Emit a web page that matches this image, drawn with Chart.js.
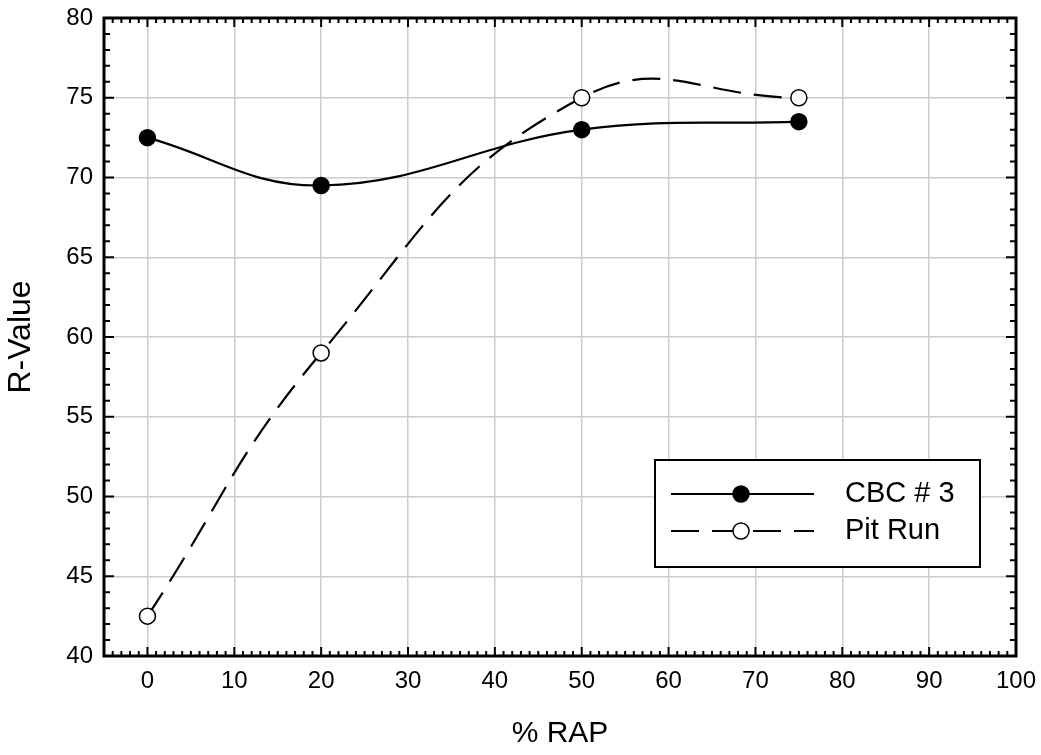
<!DOCTYPE html>
<html>
<head>
<meta charset="utf-8">
<script src="https://cdn.jsdelivr.net/npm/chart.js@4"></script>
<style>
  html, body { margin: 0; padding: 0; background: #fff; }
  canvas { display: block; }
</style>
</head>
<body>
<canvas id="chart" width="1041" height="755"></canvas>
<script>
// values
const rapPercent = [0, 20, 50, 75];
const cbcValues = [72.5, 69.5, 73, 73.5];
const pitRunValues = [42.5, 59, 75, 75];
const seriesNames = ['CBC # 3', 'Pit Run'];
const xTickValues = [0, 10, 20, 30, 40, 50, 60, 70, 80, 90, 100];

const FONT = "'Liberation Sans', Arial, sans-serif";
const DASH = [28, 13];

const toPoints = (xs, ys) => xs.map((x, i) => ({x, y: ys[i]}));

// frame with inward major/minor ticks, like the original plotting program
const frameTicks = {
  id: 'frameTicks',
  afterDraw(chart) {
    const {ctx, chartArea: a, scales: {x, y}} = chart;
    ctx.save();
    ctx.strokeStyle = '#000';
    ctx.lineWidth = 2;
    ctx.beginPath();
    for (let v = Math.ceil(x.min); v <= x.max; v++) {
      const px = x.getPixelForValue(v);
      const len = v % 10 === 0 ? 9 : 5;
      ctx.moveTo(px, a.bottom); ctx.lineTo(px, a.bottom - len);
      ctx.moveTo(px, a.top); ctx.lineTo(px, a.top + len);
    }
    for (let v = y.min; v <= y.max; v++) {
      const py = y.getPixelForValue(v);
      const len = v % 5 === 0 ? 10 : 6;
      ctx.moveTo(a.left, py); ctx.lineTo(a.left + len, py);
      ctx.moveTo(a.right, py); ctx.lineTo(a.right - len, py);
    }
    ctx.stroke();
    ctx.lineWidth = 3;
    ctx.strokeRect(a.left, a.top, a.right - a.left, a.bottom - a.top);
    ctx.restore();
  }
};

// boxed legend sitting inside the plot, lower right
const boxLegend = {
  id: 'boxLegend',
  afterDraw(chart) {
    const {ctx} = chart;
    const box = {x: 655, y: 460, w: 325, h: 107};
    ctx.save();
    ctx.fillStyle = '#fff';
    ctx.fillRect(box.x, box.y, box.w, box.h);
    ctx.strokeStyle = '#000';
    ctx.lineWidth = 2;
    ctx.strokeRect(box.x, box.y, box.w, box.h);

    const rows = [494, 531];
    chart.data.datasets.forEach((ds, i) => {
      const ly = rows[i];
      ctx.lineWidth = ds.borderWidth;
      ctx.setLineDash(ds.borderDash || []);
      ctx.beginPath();
      ctx.moveTo(671, ly);
      ctx.lineTo(814, ly);
      ctx.stroke();
      ctx.setLineDash([]);
      ctx.beginPath();
      ctx.arc(741, ly, ds.pointRadius, 0, Math.PI * 2);
      ctx.fillStyle = ds.pointBackgroundColor;
      ctx.fill();
      ctx.lineWidth = ds.pointBorderWidth;
      ctx.stroke();
      ctx.fillStyle = '#000';
      ctx.font = '29px ' + FONT;
      ctx.textBaseline = 'middle';
      ctx.fillText(ds.label, 845, ly);
    });
    ctx.restore();
  }
};

new Chart(document.getElementById('chart'), {
  type: 'line',
  data: {
    datasets: [
      {
        label: seriesNames[0],
        data: toPoints(rapPercent, cbcValues),
        borderColor: '#000',
        borderWidth: 2.2,
        tension: 0.4,
        pointRadius: 8,
        pointBackgroundColor: '#000',
        pointBorderColor: '#000',
        pointBorderWidth: 1.5
      },
      {
        label: seriesNames[1],
        data: toPoints(rapPercent, pitRunValues),
        borderColor: '#000',
        borderWidth: 2.2,
        borderDash: DASH,
        tension: 0.45,
        pointRadius: 8,
        pointBackgroundColor: '#fff',
        pointBorderColor: '#000',
        pointBorderWidth: 1.5
      }
    ]
  },
  options: {
    responsive: false,
    animation: false,
    layout: {padding: {top: 18, right: 25, left: 0, bottom: 0}},
    plugins: {
      legend: {display: false},
      tooltip: {enabled: false}
    },
    scales: {
      x: {
        type: 'linear',
        min: -5,
        max: 100,
        afterBuildTicks: s => { s.ticks = xTickValues.map(v => ({value: v})); },
        afterFit: s => { s.height = 99; s.paddingLeft = 0; s.paddingRight = 0; },
        ticks: {
          color: '#000',
          padding: 11,
          font: {family: FONT, size: 24}
        },
        grid: {color: '#cccccc', lineWidth: 1.5, drawTicks: false},
        border: {display: false},
        title: {
          display: true,
          text: '% RAP',
          color: '#000',
          font: {family: FONT, size: 30},
          padding: {top: 0, bottom: 3}
        }
      },
      y: {
        min: 40,
        max: 80,
        afterFit: s => { s.width = 104; s.paddingTop = 0; s.paddingBottom = 0; },
        ticks: {
          stepSize: 5,
          color: '#000',
          padding: 11,
          font: {family: FONT, size: 24}
        },
        grid: {color: '#cccccc', lineWidth: 1.5, drawTicks: false},
        border: {display: false},
        title: {
          display: true,
          text: 'R-Value',
          color: '#000',
          font: {family: FONT, size: 32},
          padding: {top: 2, bottom: 0}
        }
      }
    }
  },
  plugins: [frameTicks, boxLegend]
});
</script>
</body>
</html>
